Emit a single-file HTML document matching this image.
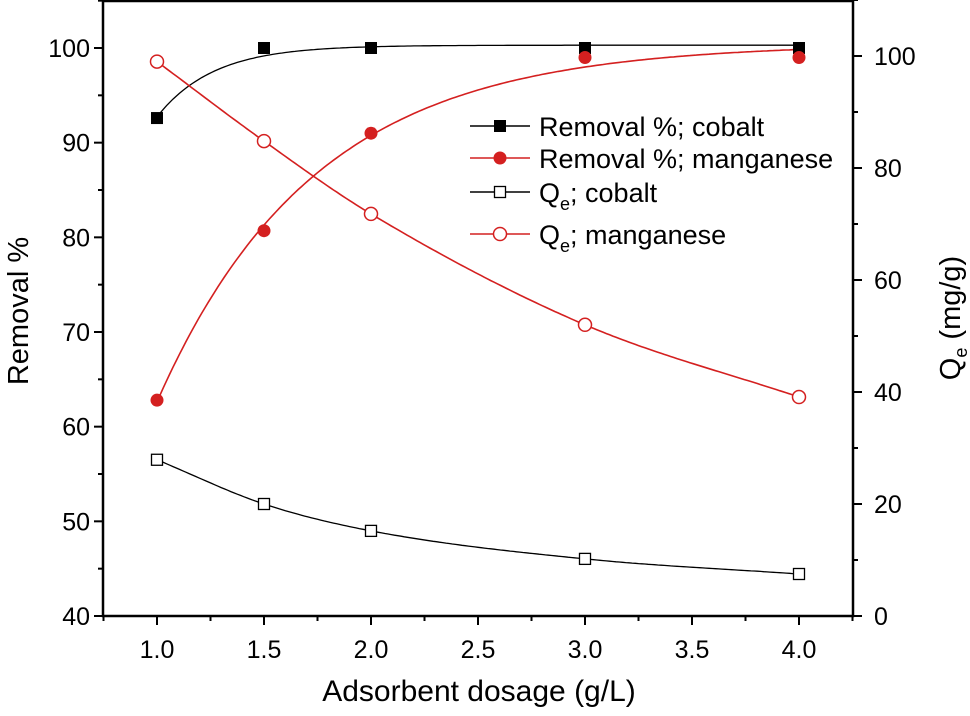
<!DOCTYPE html>
<html><head><meta charset="utf-8"><style>
body{margin:0;background:#fff}
svg{display:block;font-family:"Liberation Sans",Arial,sans-serif}
</style></head><body>
<svg id="chart" width="970" height="716" viewBox="0 0 970 716"></svg>
<script>
const dosages=[1.0,1.5,2.0,3.0,4.0];
const removalCobalt=[92.6,100,100,100,100];
const removalManganese=[62.8,80.7,91.0,99.0,99.0];
const qeCobalt=[27.9,20.0,15.2,10.2,7.5];
const qeManganese=[99.0,84.8,71.8,52.0,39.1];
const xTicks=[1.0,1.5,2.0,2.5,3.0,3.5,4.0];
const yLeftTicks=[40,50,60,70,80,90,100];
const yRightTicks=[0,20,40,60,80,100];

const NS="http://www.w3.org/2000/svg";
const svg=document.getElementById('chart');
const L=103,R=853,T=1,B=616;
const X=v=>157+(v-1)*214;
const YL=v=>616-(v-40)*(568/60);
const YR=v=>616-v*5.6;
function mk(tag,attrs,parent){const e=document.createElementNS(NS,tag);for(const k in attrs)e.setAttribute(k,attrs[k]);(parent||svg).appendChild(e);return e;}
function txt(s,x,y,size,anchor,parent){const t=mk('text',{x:x,y:y,'font-size':size,'text-anchor':anchor||'middle',fill:'#000'},parent);t.textContent=s;return t;}

function mono(xs,ys){const n=xs.length,d=[],m=[];for(let i=0;i<n-1;i++)d.push((ys[i+1]-ys[i])/(xs[i+1]-xs[i]));
m[0]=d[0];m[n-1]=d[n-2];for(let i=1;i<n-1;i++){m[i]=d[i-1]*d[i]<=0?0:(d[i-1]+d[i])/2;}
for(let i=0;i<n-1;i++){if(d[i]===0){m[i]=0;m[i+1]=0;continue;}const a=m[i]/d[i],b=m[i+1]/d[i],s=a*a+b*b;if(s>9){const t=3/Math.sqrt(s);m[i]=t*a*d[i];m[i+1]=t*b*d[i];}}
return x=>{let i=0;while(i<n-2&&x>xs[i+1])i++;const h=xs[i+1]-xs[i],t=(x-xs[i])/h,t2=t*t,t3=t2*t;
return (2*t3-3*t2+1)*ys[i]+(t3-2*t2+t)*h*m[i]+(-2*t3+3*t2)*ys[i+1]+(t3-t2)*h*m[i+1];};}
function expFit(xs,ys,kMax){let best=null;const x0=xs[0];
for(let k=0.2;k<=kMax;k+=0.01){const e=xs.map(x=>Math.exp(-k*(x-x0)));const n=xs.length;
let se=0,see=0,sy=0,sey=0;for(let i=0;i<n;i++){se+=e[i];see+=e[i]*e[i];sy+=ys[i];sey+=e[i]*ys[i];}
const det=n*see-se*se;if(Math.abs(det)<1e-9)continue;const A=(sy*see-se*sey)/det,C=(n*sey-se*sy)/det;
let sse=0;for(let i=0;i<n;i++){const r=ys[i]-(A+C*e[i]);sse+=r*r;}
if(!best||sse<best.sse)best={A,C,k,sse};}
return x=>best.A+best.C*Math.exp(-best.k*(x-x0));}
function curve(f,Y,color,name){let d='';const x0=dosages[0],x1=dosages[dosages.length-1];
for(let k=0;k<=200;k++){const x=x0+(x1-x0)*k/200;d+=(k?'L':'M')+X(x).toFixed(1)+','+Y(f(x)).toFixed(1);}
const p=mk('path',{d:d,fill:'none',stroke:color,'stroke-width':color==='#000'?1.3:1.6});
}

const frame=mk('rect',{x:L,y:T,width:R-L,height:B-T,fill:'none',stroke:'#000','stroke-width':2.5});


const xa=mk('g',{});
for(let v=0.75;v<=4.26;v+=0.25){const x=X(v);const major=Math.abs(v*2-Math.round(v*2))<1e-6;mk('line',{x1:x,x2:x,y1:B,y2:B+(major?9:5),stroke:'#000','stroke-width':2},xa);}
xTicks.forEach(v=>txt(v.toFixed(1),X(v),658,25,'middle',xa));
const ya=mk('g',{});
for(let v=40;v<=105;v+=5){const y=YL(v);mk('line',{x1:L,x2:L-(v%10===0?9:5),y1:y,y2:y,stroke:'#000','stroke-width':2},ya);}
yLeftTicks.forEach(v=>txt(String(v),L-13,YL(v)+9,25,'end',ya));
const yr=mk('g',{});
for(let v=0;v<=110;v+=10){const y=YR(v);mk('line',{x1:R,x2:R+(v%20===0?9:5),y1:y,y2:y,stroke:'#000','stroke-width':2},yr);}
yRightTicks.forEach(v=>txt(String(v),R+21,YR(v)+9,25,'start',yr));

const xt=txt('Adsorbent dosage (g/L)',479,701,30);
const ylt=mk('text',{x:0,y:0,'font-size':29,'text-anchor':'middle',transform:'translate(28,311) rotate(-90)'});ylt.textContent='Removal %';

const yrt=mk('text',{x:0,y:0,'font-size':29,'text-anchor':'middle',transform:'translate(960,318) rotate(-90)'});
yrt.innerHTML='Q<tspan font-size="18" dy="7">e</tspan><tspan dy="-7"> (mg/g)</tspan>';


curve(expFit(dosages,removalCobalt,3.8),YL,'#000','removal-cobalt-line');
curve(expFit(dosages,removalManganese,6),YL,'#d42020','removal-manganese-line');
curve(mono(dosages,qeCobalt),YR,'#000','qe-cobalt-line');
curve(mono(dosages,qeManganese),YR,'#d42020','qe-manganese-line');

function marker(kind,x,y,parent){if(kind==='sq')return mk('rect',{x:x-6,y:y-6,width:12,height:12,fill:'#000'},parent);
if(kind==='osq')return mk('rect',{x:x-5.5,y:y-5.5,width:11,height:11,fill:'#fff',stroke:'#000','stroke-width':1.3},parent);
if(kind==='ci')return mk('circle',{cx:x,cy:y,r:6.5,fill:'#d42020'},parent);
return mk('circle',{cx:x,cy:y,r:6.5,fill:'#fff',stroke:'#d42020','stroke-width':1.5},parent);}
function pts(vals,Y,kind,name){dosages.forEach((d,i)=>{const m=marker(kind,X(d),Y(vals[i]));});}
pts(removalCobalt,YL,'sq','removal-cobalt-point');
pts(removalManganese,YL,'ci','removal-manganese-point');
pts(qeCobalt,YR,'osq','qe-cobalt-point');
pts(qeManganese,YR,'oci','qe-manganese-point');

const lg=mk('g',{});
const entries=[['sq','#000','Removal %; cobalt',126],['ci','#d42020','Removal %; manganese',158],['osq','#000','Q|e|; cobalt',192],['oci','#d42020','Q|e|; manganese',234]];
entries.forEach(e=>{const g=mk('g',{},lg);
mk('line',{x1:470,x2:530,y1:e[3],y2:e[3],stroke:e[1],'stroke-width':1.4},g);marker(e[0],500,e[3],g);
const t=mk('text',{x:539,y:e[3]+10,'font-size':27},g);const parts=e[2].split('|');
if(parts.length===1)t.textContent=parts[0];else t.innerHTML=parts[0]+'<tspan font-size="18" dy="8">'+parts[1]+'</tspan><tspan dy="-8">'+parts[2]+'</tspan>';});
</script>
</body></html>
